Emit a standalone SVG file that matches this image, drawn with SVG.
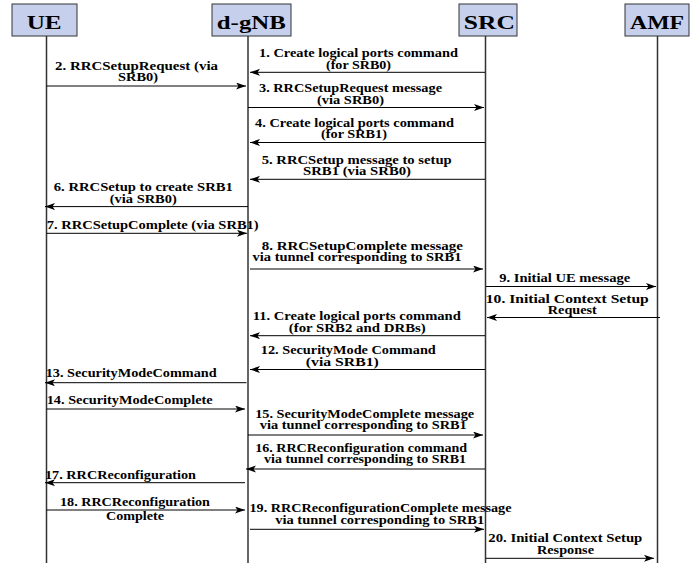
<svg xmlns="http://www.w3.org/2000/svg" width="699" height="565" viewBox="0 0 699 565">
<defs>
<style>
.box{fill:#c6d0ec;stroke:#333;stroke-width:1}
.hd{font-family:"Liberation Serif","Times New Roman",serif;font-weight:bold;font-size:18px;fill:#000;text-anchor:middle}
.life{stroke:#333;stroke-width:1.5;fill:none}
.msg{stroke:#000;stroke-width:1;fill:none;marker-end:url(#ah)}
.lb{font-family:"Liberation Serif","Times New Roman",serif;font-weight:bold;font-size:11.5px;fill:#000;text-anchor:middle}
.ll{font-family:"Liberation Serif","Times New Roman",serif;font-weight:bold;font-size:11.5px;fill:#000;text-anchor:start}
</style>
<marker id="ah" markerUnits="userSpaceOnUse" markerWidth="11" markerHeight="8" refX="10" refY="3.5" orient="auto">
<path d="M0,0 L10,3.5 L0,7 L2.5,3.5 z" fill="#000"/>
</marker>
</defs>
<rect width="699" height="565" fill="#fff"/>
<g id="lifelines">
<line class="life" x1="46.5" y1="36" x2="46.5" y2="563"/>
<line class="life" x1="248" y1="36" x2="248" y2="563"/>
<line class="life" x1="485.5" y1="36" x2="485.5" y2="563"/>
<line class="life" x1="657.5" y1="36" x2="657.5" y2="563"/>
</g>
<g id="ue"><rect class="box" x="12" y="4" width="65" height="32"/><text class="hd" x="44.2" y="29.3" textLength="35" lengthAdjust="spacingAndGlyphs">UE</text></g>
<g id="dgnb"><rect class="box" x="212" y="4" width="79" height="32"/><text class="hd" x="251.3" y="29.3" textLength="69" lengthAdjust="spacingAndGlyphs">d-gNB</text></g>
<g id="src"><rect class="box" x="459" y="4" width="58" height="32"/><text class="hd" x="489.3" y="29.3" textLength="51" lengthAdjust="spacingAndGlyphs">SRC</text></g>
<g id="amf"><rect class="box" x="625" y="4" width="64" height="32"/><text class="hd" x="657" y="29.3" textLength="54" lengthAdjust="spacingAndGlyphs">AMF</text></g>
<g id="connectors">
<line class="msg" x1="485" y1="72.3" x2="250" y2="72.3"/>
<line class="msg" x1="46.5" y1="86" x2="246" y2="86"/>
<line class="msg" x1="248" y1="107.5" x2="484" y2="107.5"/>
<line class="msg" x1="485" y1="142.5" x2="250" y2="142.5"/>
<line class="msg" x1="485" y1="179.3" x2="250" y2="179.3"/>
<line class="msg" x1="248" y1="206.6" x2="45" y2="206.6"/>
<line class="msg" x1="46.5" y1="233.3" x2="247" y2="233.3"/>
<line class="msg" x1="250" y1="269" x2="483" y2="269"/>
<line class="msg" x1="486" y1="286.5" x2="656" y2="286.5"/>
<line class="msg" x1="660" y1="317.5" x2="487" y2="317.5"/>
<line class="msg" x1="485" y1="335.7" x2="250" y2="335.7"/>
<line class="msg" x1="485" y1="369.5" x2="250" y2="369.5"/>
<line class="msg" x1="246.5" y1="382.7" x2="45" y2="382.7"/>
<line class="msg" x1="46.5" y1="409" x2="245" y2="409"/>
<line class="msg" x1="248" y1="435" x2="483" y2="435"/>
<line class="msg" x1="485" y1="469" x2="246" y2="469"/>
<line class="msg" x1="245" y1="482.7" x2="45" y2="482.7"/>
<line class="msg" x1="46.5" y1="510" x2="245" y2="510"/>
<line class="msg" x1="250" y1="529.3" x2="484" y2="529.3"/>
<line class="msg" x1="486" y1="558.3" x2="654" y2="558.3"/>
</g>
<g id="labels">
<text class="lb" x="358.5" y="57.3" textLength="199" lengthAdjust="spacingAndGlyphs">1. Create logical ports command</text>
<text class="lb" x="358.5" y="69.3" textLength="65" lengthAdjust="spacingAndGlyphs">(for SRB0)</text>
<text class="lb" x="136.5" y="70" textLength="163" lengthAdjust="spacingAndGlyphs">2. RRCSetupRequest (via</text>
<text class="lb" x="138" y="80.5" textLength="40" lengthAdjust="spacingAndGlyphs">SRB0)</text>
<text class="lb" x="350.5" y="92.3" textLength="183" lengthAdjust="spacingAndGlyphs">3. RRCSetupRequest message</text>
<text class="lb" x="350.5" y="104.3" textLength="67" lengthAdjust="spacingAndGlyphs">(via SRB0)</text>
<text class="lb" x="354.5" y="127" textLength="199" lengthAdjust="spacingAndGlyphs">4. Create logical ports command</text>
<text class="lb" x="354" y="138.3" textLength="66" lengthAdjust="spacingAndGlyphs">(for SRB1)</text>
<text class="lb" x="356.7" y="164" textLength="190" lengthAdjust="spacingAndGlyphs">5. RRCSetup message to setup</text>
<text class="lb" x="357" y="175.3" textLength="108" lengthAdjust="spacingAndGlyphs">SRB1 (via SRB0)</text>
<text class="lb" x="143.3" y="191" textLength="179" lengthAdjust="spacingAndGlyphs">6. RRCSetup to create SRB1</text>
<text class="lb" x="143.3" y="202.7" textLength="67" lengthAdjust="spacingAndGlyphs">(via SRB0)</text>
<text class="ll" x="46.7" y="229" textLength="212" lengthAdjust="spacingAndGlyphs">7. RRCSetupComplete (via SRB1)</text>
<text class="lb" x="362.3" y="250" textLength="201" lengthAdjust="spacingAndGlyphs">8. RRCSetupComplete message</text>
<text class="lb" x="357" y="261" textLength="209" lengthAdjust="spacingAndGlyphs">via tunnel corresponding to SRB1</text>
<text class="lb" x="564.7" y="282.3" textLength="131" lengthAdjust="spacingAndGlyphs">9. Initial UE message</text>
<text class="lb" x="567.3" y="302.5" textLength="163" lengthAdjust="spacingAndGlyphs">10. Initial Context Setup</text>
<text class="lb" x="572.3" y="314" textLength="49" lengthAdjust="spacingAndGlyphs">Request</text>
<text class="lb" x="356.8" y="320" textLength="208" lengthAdjust="spacingAndGlyphs">11. Create logical ports command</text>
<text class="lb" x="357.3" y="331.7" textLength="137" lengthAdjust="spacingAndGlyphs">(for SRB2 and DRBs)</text>
<text class="lb" x="348.3" y="354" textLength="175" lengthAdjust="spacingAndGlyphs">12. SecurityMode Command</text>
<text class="lb" x="342.3" y="365.7" textLength="73" lengthAdjust="spacingAndGlyphs">(via SRB1)</text>
<text class="ll" x="45.7" y="376.7" textLength="171" lengthAdjust="spacingAndGlyphs">13. SecurityModeCommand</text>
<text class="ll" x="46.7" y="404" textLength="166" lengthAdjust="spacingAndGlyphs">14. SecurityModeComplete</text>
<text class="lb" x="364.7" y="417.7" textLength="219" lengthAdjust="spacingAndGlyphs">15. SecurityModeComplete message</text>
<text class="lb" x="363.3" y="429.3" textLength="207" lengthAdjust="spacingAndGlyphs">via tunnel corresponding to SRB1</text>
<text class="lb" x="361.2" y="452.3" textLength="212" lengthAdjust="spacingAndGlyphs">16. RRCReconfiguration command</text>
<text class="lb" x="365" y="463.3" textLength="202" lengthAdjust="spacingAndGlyphs">via tunnel corresponding to SRB1</text>
<text class="ll" x="45" y="479.3" textLength="151" lengthAdjust="spacingAndGlyphs">17. RRCReconfiguration</text>
<text class="lb" x="135" y="506" textLength="150" lengthAdjust="spacingAndGlyphs">18. RRCReconfiguration</text>
<text class="lb" x="135" y="520" textLength="58" lengthAdjust="spacingAndGlyphs">Complete</text>
<text class="lb" x="380.5" y="511.7" textLength="262" lengthAdjust="spacingAndGlyphs">19. RRCReconfigurationComplete message</text>
<text class="lb" x="379.7" y="524" textLength="209" lengthAdjust="spacingAndGlyphs">via tunnel corresponding to SRB1</text>
<text class="lb" x="565.3" y="541.7" textLength="154" lengthAdjust="spacingAndGlyphs">20. Initial Context Setup</text>
<text class="lb" x="565.5" y="554" textLength="57" lengthAdjust="spacingAndGlyphs">Response</text>
</g>
</svg>
